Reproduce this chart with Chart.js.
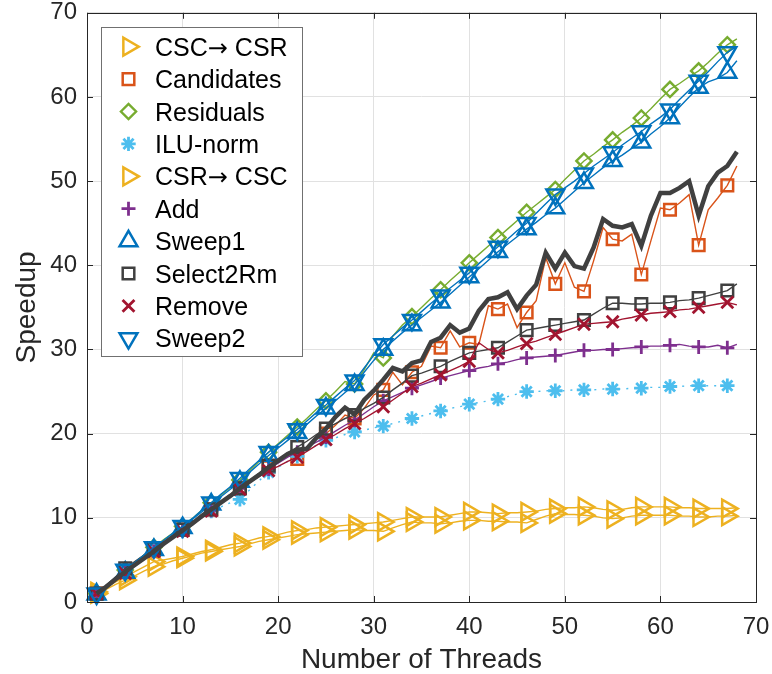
<!DOCTYPE html>
<html>
<head>
<meta charset="utf-8">
<script src="https://cdn.jsdelivr.net/npm/chart.js@4.4.1/dist/chart.umd.min.js"></script>
<style>
  html, body { margin: 0; padding: 0; background: #fff; }
  #wrap { width: 772px; height: 674px; }
</style>
</head>
<body>
<div id="wrap"><canvas id="chart" width="772" height="674"></canvas></div>
<script>
// thread counts (x axis), one value per thread
const threads = [
  1, 2, 3, 4, 5, 6, 7, 8, 9, 10,
  11, 12, 13, 14, 15, 16, 17, 18, 19, 20,
  21, 22, 23, 24, 25, 26, 27, 28, 29, 30,
  31, 32, 33, 34, 35, 36, 37, 38, 39, 40,
  41, 42, 43, 44, 45, 46, 47, 48, 49, 50,
  51, 52, 53, 54, 55, 56, 57, 58, 59, 60,
  61, 62, 63, 64, 65, 66, 67, 68
];

// speedup per thread count
const cscToCsr = [
  1.2, 1.8, 2.4, 3.0, 3.6, 4.2, 4.8, 5.0, 5.2, 5.4,
  5.7, 6.0, 6.2, 6.5, 6.8, 7.0, 7.3, 7.6, 7.8, 8.0,
  8.3, 8.5, 8.6, 8.8, 8.9, 9.0, 9.1, 9.2, 9.3, 9.4,
  9.5, 9.7, 9.9, 10.1, 10.1, 10.1, 10.1, 10.3, 10.5, 10.7,
  10.7, 10.6, 10.5, 10.6, 10.6, 10.7, 10.8, 11.0, 11.1, 11.2,
  11.2, 11.3, 11.2, 11.0, 10.9, 11.0, 11.2, 11.3, 11.3, 11.3,
  11.3, 11.2, 11.2, 11.1, 11.1, 11.1, 11.1, 11.2
];
const candidates = [
  1.0, 1.8, 2.7, 3.5, 4.4, 5.3, 6.1, 6.9, 7.8, 8.6,
  9.4, 10.2, 11.0, 11.9, 12.8, 13.6, 14.4, 15.2, 16.0, 16.8,
  17.4, 17.0, 18.4, 19.4, 20.0, 21.0, 22.2, 21.8, 23.0, 24.6,
  25.2, 27.3, 25.8, 27.3, 28.0, 30.4, 30.2, 32.2, 30.3, 30.8,
  30.6, 35.2, 34.8, 35.4, 32.6, 34.4, 35.8, 40.9, 37.8, 40.3,
  37.4, 36.9, 40.5, 44.5, 43.1, 42.9, 43.7, 38.9, 42.9, 46.8,
  46.6, 47.4, 48.4, 42.4, 46.6, 48.0, 49.5, 51.8
];
const residuals = [
  1.0, 1.9, 2.9, 3.8, 4.7, 5.6, 6.5, 7.4, 8.2, 9.0,
  9.9, 10.9, 11.8, 12.7, 13.6, 14.5, 15.6, 16.7, 17.8, 18.8,
  19.8, 20.8, 21.8, 22.9, 23.9, 25.0, 26.2, 25.9, 27.6, 29.6,
  29.0, 31.6, 32.9, 33.9, 35.0, 36.1, 37.1, 38.2, 39.2, 40.3,
  41.3, 42.3, 43.3, 44.3, 45.3, 46.3, 47.2, 48.1, 49.0, 50.2,
  51.3, 52.4, 53.2, 54.1, 54.9, 55.8, 56.6, 57.5, 58.6, 59.8,
  60.9, 61.6, 62.4, 63.1, 64.1, 65.2, 66.2, 66.9
];
const iluNorm = [
  1.0, 1.9, 2.7, 3.6, 4.5, 5.4, 6.2, 6.9, 7.7, 8.4,
  9.2, 10.0, 10.8, 11.3, 11.8, 12.2, 13.3, 14.4, 15.4, 16.0,
  16.7, 17.3, 18.0, 18.6, 19.2, 19.5, 19.9, 20.2, 20.4, 20.7,
  20.9, 21.2, 21.5, 21.8, 22.1, 22.4, 22.7, 23.0, 23.2, 23.5,
  23.7, 23.9, 24.1, 24.4, 24.7, 25.0, 25.0, 25.1, 25.1, 25.1,
  25.2, 25.2, 25.2, 25.3, 25.3, 25.3, 25.4, 25.4, 25.5, 25.5,
  25.6, 25.6, 25.7, 25.7, 25.7, 25.7, 25.7, 25.8
];
const csrToCsc = [
  1.0, 1.5, 2.1, 2.6, 3.1, 3.7, 4.2, 4.5, 4.9, 5.2,
  5.5, 5.8, 6.0, 6.2, 6.4, 6.6, 6.9, 7.2, 7.4, 7.6,
  7.8, 8.0, 8.1, 8.2, 8.3, 8.4, 8.5, 8.6, 8.5, 8.5,
  8.4, 8.8, 9.2, 9.5, 9.4, 9.4, 9.3, 9.4, 9.6, 9.7,
  9.7, 9.6, 9.6, 9.5, 9.5, 9.4, 9.8, 10.2, 10.5, 10.4,
  10.4, 10.3, 10.2, 10.0, 9.9, 10.0, 10.2, 10.3, 10.3, 10.3,
  10.3, 10.2, 10.2, 10.1, 10.1, 10.2, 10.2, 10.3
];
const addOp = [
  1.0, 1.8, 2.7, 3.5, 4.4, 5.2, 6.0, 6.8, 7.7, 8.5,
  9.3, 10.1, 10.9, 11.8, 12.6, 13.5, 14.3, 15.0, 15.8, 16.5,
  17.2, 17.8, 18.4, 19.0, 19.6, 20.3, 21.0, 21.6, 22.4, 23.2,
  23.9, 24.4, 24.9, 25.4, 25.8, 26.2, 26.6, 26.9, 27.2, 27.5,
  27.8, 28.0, 28.3, 28.5, 28.8, 29.0, 29.1, 29.2, 29.3, 29.5,
  29.7, 29.9, 29.9, 30.0, 30.0, 30.1, 30.2, 30.3, 30.4, 30.4,
  30.5, 30.6, 30.4, 30.3, 30.3, 30.5, 30.2, 30.6
];
const sweep1 = [
  0.9, 1.8, 2.6, 3.5, 4.4, 5.3, 6.2, 7.1, 8.0, 8.8,
  9.8, 10.7, 11.6, 12.5, 13.4, 14.3, 15.4, 16.4, 17.4, 18.3,
  19.2, 20.1, 21.1, 22.1, 23.0, 23.9, 24.9, 25.8, 27.3, 28.7,
  30.0, 31.0, 32.0, 32.9, 33.8, 34.7, 35.6, 36.6, 37.6, 38.6,
  39.6, 40.6, 41.6, 42.5, 43.4, 44.3, 45.1, 46.0, 46.8, 47.8,
  48.8, 49.8, 50.7, 51.6, 52.4, 53.1, 53.9, 54.6, 55.6, 56.5,
  57.5, 58.8, 60.0, 61.1, 61.8, 62.2, 62.9, 64.3
];
const select2Rm = [
  1.0, 2.0, 3.0, 4.0, 4.8, 5.6, 6.4, 7.1, 7.9, 8.6,
  9.4, 10.2, 11.0, 11.8, 12.7, 13.5, 14.4, 15.3, 16.2, 16.9,
  17.7, 18.4, 19.1, 19.9, 20.6, 21.2, 21.8, 22.2, 23.0, 23.6,
  24.3, 25.2, 26.0, 26.9, 27.2, 27.6, 28.0, 28.6, 29.1, 29.6,
  29.8, 30.0, 30.2, 30.9, 31.6, 32.3, 32.5, 32.7, 32.9, 33.1,
  33.3, 33.5, 34.2, 34.9, 35.5, 35.5, 35.4, 35.4, 35.5, 35.5,
  35.6, 35.8, 35.9, 36.1, 36.4, 36.7, 37.0, 37.8
];
const removeOp = [
  1.0, 1.8, 2.6, 3.4, 4.3, 5.2, 6.0, 6.8, 7.6, 8.4,
  9.2, 10.0, 10.8, 11.7, 12.5, 13.4, 14.2, 14.9, 15.6, 16.1,
  16.7, 17.2, 17.9, 18.6, 19.3, 19.9, 20.6, 21.2, 21.8, 22.5,
  23.2, 24.0, 24.8, 25.6, 26.0, 26.5, 27.0, 27.5, 28.0, 28.6,
  30.8, 30.0, 29.6, 29.9, 30.3, 30.7, 31.0, 31.4, 31.8, 32.2,
  32.6, 33.0, 33.1, 33.2, 33.3, 33.6, 33.8, 34.1, 34.3, 34.4,
  34.5, 34.7, 34.8, 35.0, 35.2, 35.4, 35.6, 35.3
];
const sweep2 = [
  1.0, 1.9, 2.9, 3.8, 4.7, 5.6, 6.5, 7.3, 8.2, 9.0,
  9.9, 10.9, 11.8, 12.8, 13.7, 14.7, 15.8, 16.8, 17.8, 18.7,
  19.6, 20.5, 21.5, 22.5, 23.4, 24.4, 25.4, 26.3, 27.8, 29.3,
  30.6, 31.6, 32.6, 33.5, 34.5, 35.5, 36.4, 37.3, 38.2, 39.1,
  40.2, 41.2, 42.2, 43.1, 44.1, 45.0, 46.2, 47.3, 48.4, 49.2,
  50.0, 50.9, 51.8, 52.6, 53.4, 54.3, 55.1, 55.9, 56.8, 57.6,
  58.5, 59.7, 60.8, 61.9, 63.0, 64.2, 65.3, 66.0
];
// unlabelled thick dark curve
const totalSpeedup = [
  1.0, 1.8, 2.7, 3.6, 4.4, 5.2, 6.0, 6.9, 7.7, 8.5,
  9.3, 10.2, 11.0, 11.8, 12.6, 13.5, 14.3, 15.1, 16.0, 16.8,
  17.6, 18.1, 18.2, 19.5, 20.6, 22.0, 23.1, 22.3, 24.0, 25.1,
  26.4, 27.8, 27.4, 28.4, 28.7, 30.9, 31.4, 32.9, 32.0, 32.5,
  34.6, 36.0, 36.2, 36.8, 34.8, 36.4, 37.7, 41.5, 39.6, 41.5,
  39.9, 39.6, 42.1, 45.5, 44.7, 44.5, 44.9, 42.3, 45.9, 48.6,
  48.6, 49.2, 50.0, 45.9, 49.4, 51.0, 51.8, 53.5
];

const FONT = "'Liberation Sans', Arial, Helvetica, sans-serif";
const ARROW_FONT = "'DejaVu Sans', sans-serif";
const AXIS_COLOR = '#262626';

// legend order = plot order
const series = [
  { label: 'CSC\u2192 CSR', data: cscToCsr, color: '#EDB120', style: 'triangle', rot: 90, r: 10.3, bw: 2.5 },
  { label: 'Candidates', data: candidates, color: '#D95319', style: 'rect', rot: 0, r: 8.2, bw: 2.5 },
  { label: 'Residuals', data: residuals, color: '#77AC30', style: 'rectRot', rot: 0, r: 7.6, bw: 2.4 },
  { label: 'ILU-norm', data: iluNorm, color: '#4DBEEE', style: 'star', rot: 0, r: 7.2, bw: 2.8, dash: [2, 6] },
  { label: 'CSR\u2192 CSC', data: csrToCsc, color: '#EDB120', style: 'triangle', rot: 90, r: 10.3, bw: 2.5 },
  { label: 'Add', data: addOp, color: '#7E2F8E', style: 'cross', rot: 0, r: 7, bw: 2.8 },
  { label: 'Sweep1', data: sweep1, color: '#0072BD', style: 'triangle', rot: 0, r: 10.3, bw: 2.5 },
  { label: 'Select2Rm', data: select2Rm, color: '#404040', style: 'rect', rot: 0, r: 8.2, bw: 2.5 },
  { label: 'Remove', data: removeOp, color: '#A2142F', style: 'crossRot', rot: 0, r: 8.4, bw: 2.8 },
  { label: 'Sweep2', data: sweep2, color: '#0072BD', style: 'triangle', rot: 180, r: 10.3, bw: 2.5 }
];

// markers only every third thread (1, 4, 7, ...)
const hasMarker = i => (threads[i] - 1) % 3 === 0;
const toPoints = arr => threads.map((t, i) => ({ x: t, y: arr[i] }));

const datasets = series.map((s, k) => ({
  label: s.label,
  data: toPoints(s.data),
  borderColor: s.color,
  borderWidth: 1.4,
  borderDash: s.dash || [],
  pointStyle: s.style,
  pointRotation: s.rot,
  pointRadius: ctx => hasMarker(ctx.dataIndex) ? s.r : 0,
  pointBorderWidth: s.bw,
  pointBorderColor: s.color,
  pointBackgroundColor: 'rgba(0,0,0,0)',
  tension: 0,
  fill: false,
  clip: 14,
  order: series.length - k + 1
}));
datasets.unshift({
  label: 'total',
  data: toPoints(totalSpeedup),
  borderColor: '#404040',
  borderWidth: 4.5,
  pointRadius: 0,
  tension: 0,
  fill: false,
  clip: 14,
  order: 0
});

function drawMarker(ctx, s, x, y) {
  if (!Chart.helpers || !Chart.helpers.drawPoint) return;
  ctx.save();
  ctx.strokeStyle = s.color;
  ctx.fillStyle = 'rgba(0,0,0,0)';
  ctx.lineWidth = s.bw;
  ctx.setLineDash([]);
  Chart.helpers.drawPoint(ctx, { pointStyle: s.style, radius: s.r, rotation: s.rot, borderWidth: s.bw }, x, y);
  ctx.restore();
}

// legend label; the arrow is drawn with a font that has it
function drawLabel(ctx, text, x, y) {
  const parts = text.split('\u2192');
  let cx = x;
  parts.forEach((p, i) => {
    if (i > 0) {
      ctx.font = '24px ' + ARROW_FONT;
      ctx.fillText('\u2192', cx, y);
      cx += ctx.measureText('\u2192').width;
    }
    ctx.font = '25px ' + FONT;
    ctx.fillText(p, cx, y);
    cx += ctx.measureText(p).width;
  });
}

// axes box with inward ticks, then the legend box on top
const boxAndLegend = {
  id: 'boxAndLegend',
  afterDraw(chart) {
    const ctx = chart.ctx;
    const a = chart.chartArea;
    const xs = chart.scales.x, ys = chart.scales.y;
    ctx.save();
    ctx.strokeStyle = AXIS_COLOR;
    ctx.lineWidth = 1;
    ctx.strokeRect(Math.round(a.left) + 0.5, Math.round(a.top) + 0.5,
      Math.round(a.right - a.left), Math.round(a.bottom - a.top));
    const tl = 6;
    ctx.beginPath();
    xs.ticks.forEach(t => {
      const px = Math.round(xs.getPixelForValue(t.value)) + 0.5;
      ctx.moveTo(px, a.bottom); ctx.lineTo(px, a.bottom - tl);
      ctx.moveTo(px, a.top); ctx.lineTo(px, a.top + tl);
    });
    ys.ticks.forEach(t => {
      const py = Math.round(ys.getPixelForValue(t.value)) + 0.5;
      ctx.moveTo(a.left, py); ctx.lineTo(a.left + tl, py);
      ctx.moveTo(a.right, py); ctx.lineTo(a.right - tl, py);
    });
    ctx.stroke();

    // legend
    const lx = 101, ly = 27, lw = 201, lh = 329;
    ctx.fillStyle = '#ffffff';
    ctx.fillRect(lx, ly, lw, lh);
    ctx.strokeStyle = '#707070';
    ctx.strokeRect(lx + 0.5, ly + 0.5, lw, lh);
    ctx.textBaseline = 'alphabetic';
    ctx.textAlign = 'left';
    series.forEach((s, i) => {
      const y = 46.7 + i * 32.4;
      drawMarker(ctx, s, 128.5, y);
      ctx.fillStyle = '#000000';
      drawLabel(ctx, s.label, 155, y + 9);
    });
    ctx.restore();
  }
};

// keep the plot box fixed: no extra room for edge tick labels
function fixX(s) { s.height = 72; s.paddingLeft = 0; s.paddingRight = 0; }
function fixY(s) { s.width = 87; s.paddingTop = 0; s.paddingBottom = 0; }

new Chart(document.getElementById('chart'), {
  type: 'line',
  data: { datasets },
  options: {
    responsive: false,
    maintainAspectRatio: false,
    devicePixelRatio: 1,
    animation: false,
    layout: { padding: { top: 12, right: 16, left: 0, bottom: 0 } },
    plugins: { legend: { display: false }, tooltip: { enabled: false } },
    scales: {
      x: {
        type: 'linear',
        min: 0, max: 70,
        afterFit: fixX,
        grid: { color: '#e1e1e1', drawTicks: false, lineWidth: 1 },
        border: { display: false },
        ticks: { stepSize: 10, padding: 11, color: AXIS_COLOR, font: { family: FONT, size: 24 } },
        title: { display: true, text: 'Number of Threads', color: AXIS_COLOR, font: { family: FONT, size: 28, lineHeight: 1 }, padding: { top: 0, bottom: 0 } }
      },
      y: {
        type: 'linear',
        min: 0, max: 70,
        afterFit: fixY,
        grid: { color: '#e1e1e1', drawTicks: false, lineWidth: 1 },
        border: { display: false },
        ticks: { stepSize: 10, padding: 10, color: AXIS_COLOR, font: { family: FONT, size: 24 } },
        title: { display: true, text: 'Speedup', color: AXIS_COLOR, font: { family: FONT, size: 28, lineHeight: 1 }, padding: { top: 13, bottom: 0 } }
      }
    }
  },
  plugins: [boxAndLegend]
});
</script>
</body>
</html>
